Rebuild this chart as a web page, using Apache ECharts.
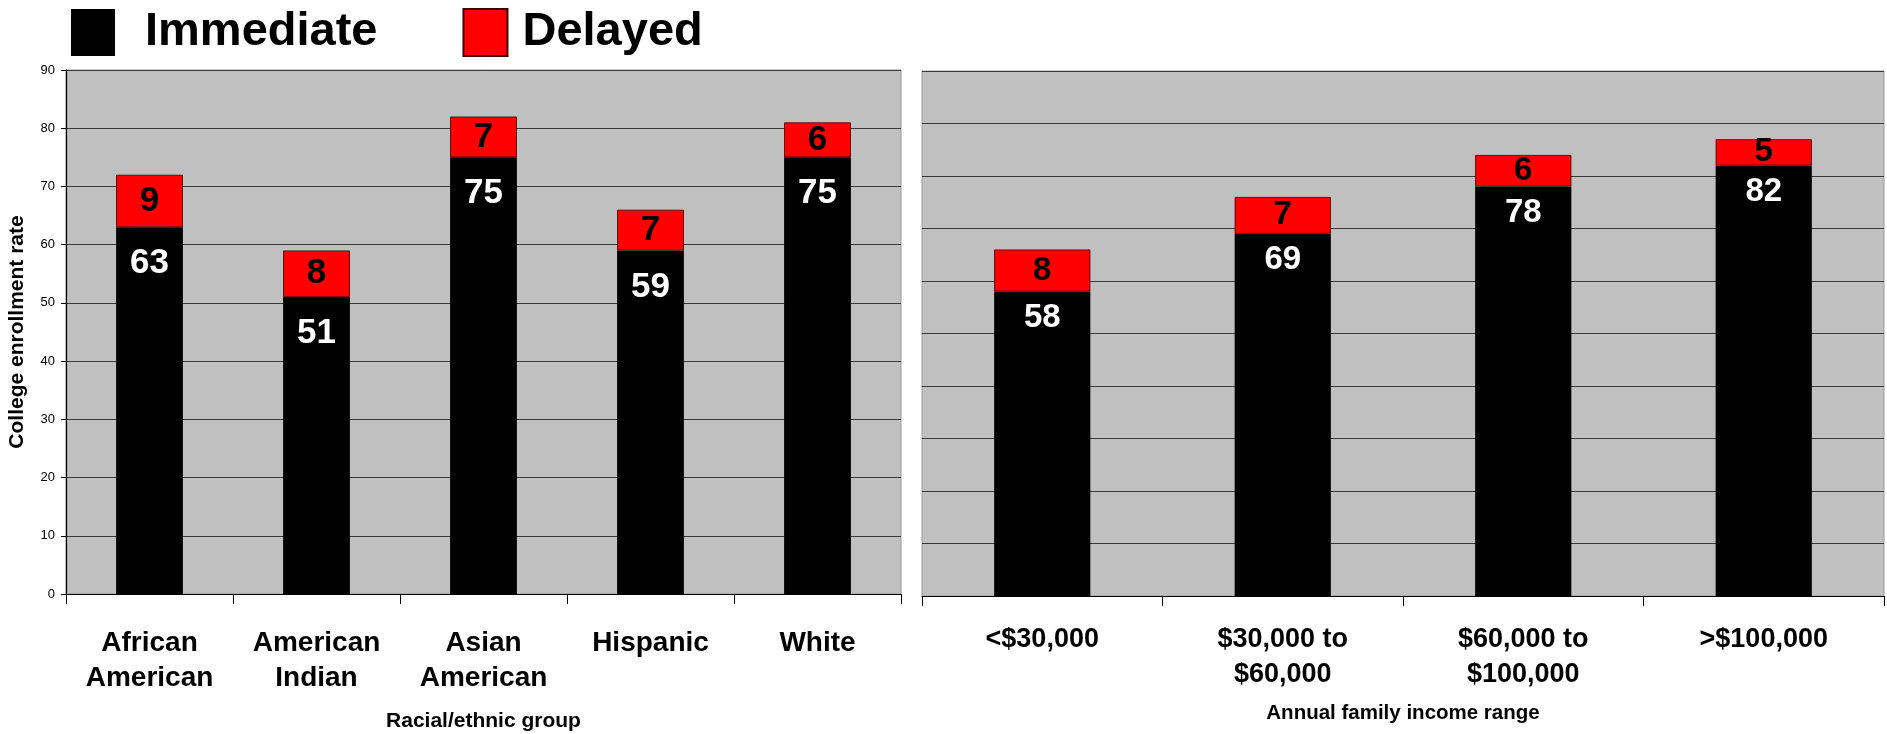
<!DOCTYPE html>
<html>
<head>
<meta charset="utf-8">
<title>College enrollment rate</title>
<script src="https://cdn.jsdelivr.net/npm/echarts@6/dist/echarts.min.js"></script>
<style>
  html, body { margin: 0; padding: 0; background: #ffffff; }
  #chart { width: 1887px; height: 734px; }
</style>
</head>
<body>
<div id="chart"></div>
<script>
// Left panel: enrollment by racial/ethnic group
const raceCategories = ['African\nAmerican', 'American\nIndian', 'Asian\nAmerican', 'Hispanic', 'White'];
const raceImmediate = [63, 51, 75, 59, 75];
const raceDelayed = [9, 8, 7, 7, 6];

// Right panel: enrollment by annual family income
const incomeCategories = ['<$30,000', '$30,000 to\n$60,000', '$60,000 to\n$100,000', '>$100,000'];
const incomeImmediate = [58, 69, 78, 82];
const incomeDelayed = [8, 7, 6, 5];

// Value axis ranges
const raceAxisMax = 90;
const incomeAxisMax = 100;
const axisStep = 10;

const seriesNames = ['Immediate', 'Delayed'];

const FONT = '"Liberation Sans", Arial, Helvetica, sans-serif';
const IMMEDIATE_COLOR = '#000000';
const DELAYED_COLOR = '#ff0000';
const PLOT_BG = '#c0c0c0';

const chart = echarts.init(document.getElementById('chart'), null, { renderer: 'canvas' });

function catAxis(gridIndex, data, name, fontSize, lineHeight, labelMargin, nameSize, nameGap) {
  return {
    type: 'category',
    gridIndex: gridIndex,
    data: data,
    name: name,
    nameLocation: 'middle',
    nameGap: nameGap,
    nameTextStyle: { fontFamily: FONT, fontSize: nameSize, fontWeight: 'bold', color: '#000' },
    axisLine: { show: true, lineStyle: { color: '#000', width: 1.2 } },
    axisTick: { show: true, length: 10, lineStyle: { color: '#000', width: 1 } },
    axisLabel: {
      interval: 0,
      margin: labelMargin,
      fontFamily: FONT,
      fontSize: fontSize,
      fontWeight: 'bold',
      lineHeight: lineHeight,
      color: '#000'
    },
    splitLine: { show: false }
  };
}

function valAxis(gridIndex, max, showLabels) {
  return {
    type: 'value',
    gridIndex: gridIndex,
    min: 0,
    max: max,
    interval: axisStep,
    name: showLabels ? 'College enrollment rate' : '',
    nameLocation: 'middle',
    nameGap: 38,
    nameTextStyle: { fontFamily: FONT, fontSize: 21, fontWeight: 'bold', color: '#000' },
    axisLine: { show: showLabels, lineStyle: { color: '#000', width: 1.2 } },
    axisTick: { show: showLabels, length: 5, lineStyle: { color: '#000' } },
    axisLabel: {
      show: showLabels,
      margin: 11,
      fontFamily: FONT,
      fontSize: 13,
      color: '#000'
    },
    splitLine: { show: true, lineStyle: { color: '#3a3a3a', width: 1.2 } }
  };
}

function immediateSeries(axisIndex, data, stack, fontSize, distance) {
  return {
    name: seriesNames[0],
    type: 'bar',
    xAxisIndex: axisIndex,
    yAxisIndex: axisIndex,
    stack: stack,
    data: data,
    barWidth: '40%',
    itemStyle: { color: IMMEDIATE_COLOR },
    label: {
      show: true,
      position: 'insideTop',
      distance: distance,
      fontFamily: FONT,
      fontSize: fontSize,
      fontWeight: 'bold',
      color: '#ffffff'
    }
  };
}

function delayedSeries(axisIndex, data, stack, fontSize) {
  return {
    name: seriesNames[1],
    type: 'bar',
    xAxisIndex: axisIndex,
    yAxisIndex: axisIndex,
    stack: stack,
    data: data,
    barWidth: '40%',
    itemStyle: { color: DELAYED_COLOR, borderColor: '#3a0000', borderWidth: 0.8 },
    label: {
      show: true,
      position: 'inside',
      fontFamily: FONT,
      fontSize: fontSize,
      fontWeight: 'bold',
      color: '#000000'
    }
  };
}

const option = {
  backgroundColor: '#ffffff',
  animation: false,
  legend: {
    data: [
      { name: seriesNames[0], textStyle: { padding: [0, 0, 0, 25] } },
      { name: seriesNames[1], textStyle: { padding: [0, 0, 0, 10] } }
    ],
    left: 66,
    top: 3,
    icon: 'rect',
    itemWidth: 44,
    itemHeight: 47,
    itemGap: 85,
    textStyle: {
      fontFamily: FONT,
      fontSize: 47,
      fontWeight: 'bold',
      color: '#000'
    }
  },
  grid: [
    {
      left: 66, top: 70, width: 835, height: 524,
      containLabel: false, outerBoundsMode: 'none',
      show: true, backgroundColor: PLOT_BG, borderColor: '#9a9a9a', borderWidth: 1
    },
    {
      left: 922, top: 71, width: 962, height: 525,
      containLabel: false, outerBoundsMode: 'none',
      show: true, backgroundColor: PLOT_BG, borderColor: '#9a9a9a', borderWidth: 1
    }
  ],
  xAxis: [
    catAxis(0, raceCategories, 'Racial/ethnic group', 28, 35, 32, 21, 117),
    catAxis(1, incomeCategories, 'Annual family income range', 27, 35, 26, 20.5, 107)
  ],
  yAxis: [
    valAxis(0, raceAxisMax, true),
    valAxis(1, incomeAxisMax, false)
  ],
  series: [
    immediateSeries(0, raceImmediate, 'race', 35, 19),
    delayedSeries(0, raceDelayed, 'race', 35),
    immediateSeries(1, incomeImmediate, 'income', 33, 10),
    delayedSeries(1, incomeDelayed, 'income', 33)
  ]
};

chart.setOption(option);
</script>
</body>
</html>
